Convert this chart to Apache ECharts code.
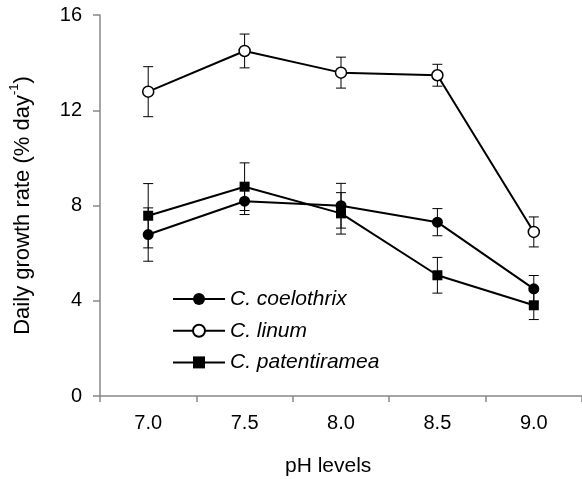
<!DOCTYPE html>
<html>
<head>
<meta charset="utf-8">
<script src="https://cdn.jsdelivr.net/npm/echarts@6/dist/echarts.min.js"></script>
<style>
  html, body { margin: 0; padding: 0; background: #fff; }
  #chart { width: 582px; height: 479px; }
</style>
</head>
<body>
<div id="chart"></div>
<script>
// pH treatments
const phLevels = ['7.0', '7.5', '8.0', '8.5', '9.0'];

// Mean daily growth rate (% day-1) and error bar half-widths
const coelothrixMean = [6.78, 8.18, 7.99, 7.30, 4.50];
const coelothrixErr  = [1.12, 0.56, 0.94, 0.57, 0.56];
const linumMean      = [12.78, 14.49, 13.58, 13.47, 6.89];
const linumErr       = [1.05, 0.71, 0.65, 0.46, 0.63];
const patentiMean    = [7.57, 8.79, 7.67, 5.07, 3.81];
const patentiErr     = [1.35, 1.00, 0.87, 0.75, 0.60];

const yTicks = [0, 4, 8, 12, 16];

const FONT = '"Liberation Sans", Arial, sans-serif';

function errorRows(mean, err) {
  return mean.map((m, i) => [i, m - err[i], m + err[i]]);
}

function renderErrorBar(params, api) {
  const idx = api.value(0);
  const lo = api.coord([idx, api.value(1)]);
  const hi = api.coord([idx, api.value(2)]);
  const half = 5;
  const style = { stroke: '#000', lineWidth: 1 };
  return {
    type: 'group',
    children: [
      { type: 'line', shape: { x1: hi[0], y1: hi[1], x2: lo[0], y2: lo[1] }, style },
      { type: 'line', shape: { x1: hi[0] - half, y1: hi[1], x2: hi[0] + half, y2: hi[1] }, style },
      { type: 'line', shape: { x1: lo[0] - half, y1: lo[1], x2: lo[0] + half, y2: lo[1] }, style }
    ]
  };
}

function errorSeries(mean, err) {
  return {
    type: 'custom',
    renderItem: renderErrorBar,
    data: errorRows(mean, err),
    encode: { x: 0, y: [1, 2] },
    z: 1,
    silent: true
  };
}

function lineSeries(name, data, symbol, size, fill) {
  return {
    name,
    type: 'line',
    data,
    symbol,
    symbolSize: size,
    showSymbol: true,
    lineStyle: { color: '#000', width: 2 },
    itemStyle: { color: fill, borderColor: '#000', borderWidth: fill === '#fff' ? 1.5 : 0 },
    z: 3
  };
}

const chart = echarts.init(document.getElementById('chart'), null, { renderer: 'canvas' });

chart.setOption({
  animation: false,
  backgroundColor: '#fff',
  grid: { left: 98, right: -9, top: 15, bottom: 83 },
  legend: {
    orient: 'vertical',
    left: 172,
    top: 288,
    padding: 0,
    itemWidth: 52,
    itemHeight: 15,
    itemGap: 9.7,
    textStyle: { fontFamily: FONT, fontSize: 21, fontStyle: 'italic', color: '#000', lineHeight: 22 },
    data: ['C. coelothrix', 'C. linum', 'C. patentiramea']
  },
  xAxis: {
    type: 'category',
    data: phLevels,
    boundaryGap: true,
    axisLine: { lineStyle: { color: '#888', width: 1.5 } },
    axisTick: { show: true, length: 6, alignWithLabel: false, lineStyle: { color: '#888', width: 1.5 } },
    axisLabel: { margin: 17, fontFamily: FONT, fontSize: 20, color: '#000' },
    splitLine: { show: false }
  },
  yAxis: {
    type: 'value',
    min: 0,
    max: 16,
    interval: 4,
    name: '{a|Daily growth rate (% day}{s|-1}{a|)}',
    nameLocation: 'middle',
    nameGap: 66,
    nameRotate: 90,
    nameTextStyle: {
      rich: {
        a: { fontFamily: FONT, fontSize: 22, color: '#000', lineHeight: 26, verticalAlign: 'bottom' },
        s: { fontFamily: FONT, fontSize: 13, color: '#000', lineHeight: 26, verticalAlign: 'top' }
      }
    },
    axisLine: { show: true, lineStyle: { color: '#888', width: 1.5 } },
    axisTick: { show: true, length: 7, lineStyle: { color: '#888', width: 1.5 } },
    axisLabel: {
      margin: 18,
      fontFamily: FONT,
      fontSize: 20,
      color: '#000',
      formatter: v => (yTicks.includes(v) ? String(v) : '')
    },
    splitLine: { show: false }
  },
  graphic: [{
    type: 'text',
    left: 285,
    top: 456,
    style: { text: 'pH levels', fontFamily: FONT, fontSize: 21, fill: '#000' }
  }],
  series: [
    errorSeries(coelothrixMean, coelothrixErr),
    errorSeries(linumMean, linumErr),
    errorSeries(patentiMean, patentiErr),
    lineSeries('C. coelothrix', coelothrixMean, 'circle', 11, '#000'),
    lineSeries('C. linum', linumMean, 'circle', 11, '#fff'),
    lineSeries('C. patentiramea', patentiMean, 'rect', 10, '#000')
  ]
});
</script>
</body>
</html>
